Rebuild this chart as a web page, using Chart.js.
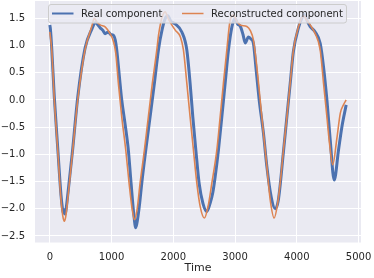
<!DOCTYPE html>
<html><head><meta charset="utf-8">
<script src="https://cdn.jsdelivr.net/npm/chart.js@4.4.0/dist/chart.umd.min.js"></script>
<style>html,body{margin:0;padding:0;background:#fff}canvas{display:block}</style>
</head><body>
<canvas id="c" width="374" height="278"></canvas>
<script>
const seriesNames = ['Real component', 'Reconstructed component'];
const realTime = [0,10,31,73,128,181,205,220,235,250,270,290,371,452,570,679,740,780,814,860,895,949,990,1029,1060,1084,1125,1165,1220,1272,1316,1360,1392,1420,1455,1489,1554,1624,1694,1759,1820,1870,1911,1960,2029,2138,2219,2272,2316,2365,2418,2480,2543,2596,2640,2677,2731,2786,2840,2893,2950,3002,3040,3083,3130,3164,3217,3260,3298,3337,3391,3460,3515,3585,3650,3700,3784,3840,3893,3946,4028,4080,4125,4170,4217,4298,4379,4433,4488,4541,4606,4676,4731,4800];
const realValues = [1.38,1.30,0.95,0.05,-0.88,-1.75,-2.00,-2.08,-2.02,-2.10,-1.95,-1.75,-0.90,0.05,0.95,1.30,1.42,1.38,1.33,1.28,1.22,1.25,1.20,1.19,1.10,0.92,0.45,0.00,-0.45,-0.92,-1.53,-2.10,-2.35,-2.20,-1.90,-1.53,-0.92,-0.31,0.31,0.92,1.30,1.50,1.55,1.45,1.40,1.25,0.92,0.31,-0.31,-0.92,-1.53,-1.90,-2.05,-1.90,-1.70,-1.42,-0.92,-0.31,0.31,0.92,1.35,1.50,1.40,1.36,1.20,1.05,1.16,1.12,1.04,0.61,0.00,-0.61,-1.22,-1.78,-2.00,-1.85,-0.95,-0.30,0.30,0.90,1.33,1.50,1.57,1.45,1.35,1.25,1.04,0.61,0.00,-0.73,-1.47,-0.92,-0.49,-0.09];
const reconTime = [0,31,73,128,181,210,235,260,290,371,452,570,679,720,760,814,900,976,1024,1068,1110,1165,1230,1284,1330,1370,1415,1462,1532,1596,1661,1733,1762,1818,1867,1916,1975,2034,2115,2164,2219,2272,2326,2381,2434,2504,2564,2624,2705,2759,2812,2867,2921,2974,3026,3083,3191,3245,3298,3353,3407,3460,3515,3569,3634,3690,3731,3784,3840,3893,3946,4028,4109,4160,4217,4298,4379,4433,4488,4530,4582,4650,4705,4760,4800];
const reconValues = [1.25,0.92,0.00,-0.92,-1.83,-2.13,-2.23,-2.13,-1.83,-0.92,0.00,0.92,1.35,1.50,1.44,1.38,1.34,1.22,1.10,0.86,0.31,-0.31,-0.92,-1.53,-1.98,-2.20,-2.00,-1.53,-0.92,-0.31,0.31,0.92,1.20,1.52,1.62,1.50,1.38,1.28,1.16,0.92,0.31,-0.31,-0.92,-1.53,-1.95,-2.17,-1.95,-1.53,-0.92,-0.31,0.31,0.92,1.47,1.56,1.45,1.38,1.35,1.28,1.10,0.61,0.00,-0.61,-1.22,-1.83,-2.17,-1.90,-1.53,-0.92,-0.31,0.31,0.92,1.35,1.55,1.47,1.38,1.22,0.92,0.31,-0.31,-0.80,-1.19,-0.70,-0.24,-0.08,0.00];
const xTicks = [0, 1000, 2000, 3000, 4000, 5000];
const xTickLabels = ['0', '1000', '2000', '3000', '4000', '5000'];
const yTicks = [-2.5, -2, -1.5, -1, -0.5, 0, 0.5, 1, 1.5];
const yTickLabels = ['\u22122.5', '\u22122.0', '\u22121.5', '\u22121.0', '\u22120.5', '0.0', '0.5', '1.0', '1.5'];
const xLabel = 'Time';

const BLUE = '#4C72B0', ORANGE = '#DD8452', TXT = '#262626';
Chart.defaults.font.family = "'DejaVu Sans', sans-serif";

const toPts = (xs, ys) => xs.map((x, i) => ({ x: x, y: ys[i] }));

const bgPlugin = {
  id: 'bg',
  beforeDraw(chart) {
    const a = chart.chartArea, ctx = chart.ctx;
    ctx.save();
    ctx.fillStyle = '#EAEAF2';
    ctx.fillRect(a.left, a.top, a.right - a.left, a.bottom - a.top);
    ctx.restore();
  }
};

const legendPlugin = {
  id: 'insideLegend',
  afterDatasetsDraw(chart) {
    const ctx = chart.ctx;
    ctx.save();
    ctx.beginPath();
    ctx.roundRect(48.5, 4.5, 298, 18.5, 2.5);
    ctx.fillStyle = 'rgba(234,234,242,0.8)';
    ctx.fill();
    ctx.strokeStyle = '#cccccc';
    ctx.lineWidth = 1;
    ctx.stroke();
    const items = [
      { color: BLUE, w: 2, x0: 52, x1: 73.5, tx: 81, text: chart.data.datasets[1].label },
      { color: ORANGE, w: 1.5, x0: 182, x1: 203.5, tx: 211, text: chart.data.datasets[0].label }
    ];
    const cy = 13.5;
    ctx.font = "10px 'DejaVu Sans'";
    ctx.textBaseline = 'middle';
    ctx.textAlign = 'left';
    items.forEach(it => {
      ctx.beginPath();
      ctx.strokeStyle = it.color;
      ctx.lineWidth = it.w;
      ctx.moveTo(it.x0, cy);
      ctx.lineTo(it.x1, cy);
      ctx.stroke();
      ctx.fillStyle = TXT;
      ctx.fillText(it.text, it.tx, cy + 0.5);
    });
    ctx.restore();
  }
};

new Chart(document.getElementById('c'), {
  type: 'line',
  data: {
    datasets: [
      { label: seriesNames[1], data: toPts(reconTime, reconValues), borderColor: ORANGE, borderWidth: 1.6,
        pointRadius: 0, cubicInterpolationMode: 'monotone', fill: false, order: 0 },
      { label: seriesNames[0], data: toPts(realTime, realValues), borderColor: BLUE, borderWidth: 3,
        pointRadius: 0, cubicInterpolationMode: 'monotone', fill: false, order: 1 }
    ]
  },
  options: {
    responsive: false, animation: false, devicePixelRatio: 1,
    layout: { padding: { top: 1, right: 13, left: 0, bottom: 0 } },
    plugins: { legend: { display: false }, tooltip: { enabled: false } },
    scales: {
      x: {
        type: 'linear', min: -240, max: 5040,
        afterBuildTicks: s => { s.ticks = xTicks.map(v => ({ value: v })); },
        afterFit: s => { s.height = 35.5; s.paddingLeft = 0; s.paddingRight = 0; },
        ticks: { callback: (v, i) => xTickLabels[i], color: TXT, font: { size: 10 }, padding: 8.5, maxRotation: 0, autoSkip: false },
        grid: { color: '#ffffff', lineWidth: 1, drawTicks: false },
        border: { display: false },
        title: { display: true, text: xLabel, color: TXT, font: { size: 11 }, padding: { top: 0, bottom: 3.4 } }
      },
      y: {
        type: 'linear', min: -2.62, max: 1.82,
        afterBuildTicks: s => { s.ticks = yTicks.map(v => ({ value: v })); },
        afterFit: s => { s.width = 35; s.paddingTop = 0; s.paddingBottom = 0; },
        ticks: { callback: (v, i) => yTickLabels[i], color: TXT, font: { size: 10 }, padding: 10, autoSkip: false },
        grid: { color: '#ffffff', lineWidth: 1, drawTicks: false },
        border: { display: false }
      }
    }
  },
  plugins: [bgPlugin, legendPlugin]
});
</script>
</body></html>
